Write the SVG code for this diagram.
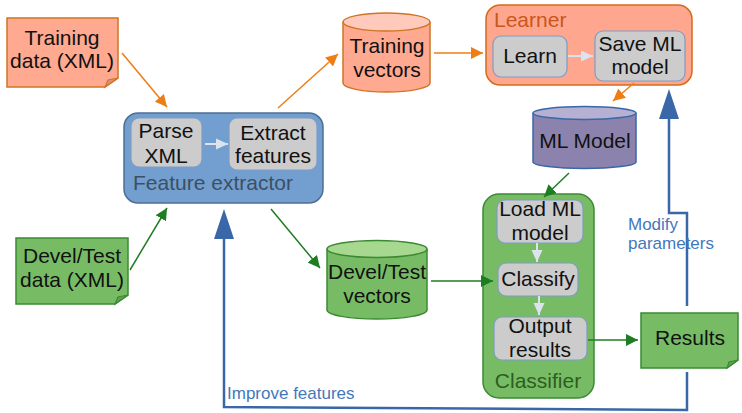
<svg xmlns="http://www.w3.org/2000/svg" width="742" height="413" viewBox="0 0 742 413">
<defs>
<marker id="ao" markerUnits="userSpaceOnUse" markerWidth="14" markerHeight="12" refX="12" refY="6" orient="auto"><path d="M0,0 L12,6 L0,12 z" fill="#ef7d15"/></marker>
<marker id="ag" markerUnits="userSpaceOnUse" markerWidth="14" markerHeight="12" refX="12" refY="6" orient="auto"><path d="M0,0 L12,6 L0,12 z" fill="#1e7d23"/></marker>
<marker id="al" markerUnits="userSpaceOnUse" markerWidth="14" markerHeight="12" refX="12" refY="6" orient="auto"><path d="M0,0.5 L12,6 L0,11.5 z" fill="#dde3ee"/></marker>
</defs>
<style>
text{font-family:"Liberation Sans",Arial,sans-serif;}
.t{font-size:21px;fill:#111;text-anchor:middle;}
.or{fill:#ffa990;stroke:#cf7525;stroke-width:1.5;}
.ortop{fill:#ffcabb;stroke:#cf7525;stroke-width:1.5;}
.gr{fill:#77bc65;stroke:#3b8a32;stroke-width:1.5;}
.grtop{fill:#a6d98f;stroke:#3b8a32;stroke-width:1.5;}
.pu{fill:#8b83ad;stroke:#3a67a8;stroke-width:1.5;}
.putop{fill:#b6b1d3;stroke:#3a67a8;stroke-width:1.5;}
.in{fill:#cccccc;stroke:#7f9cc4;stroke-width:1.2;}
.fold-o{fill:#e58f74;stroke:#cf7525;stroke-width:1.2;}
.fold-g{fill:#5fa34e;stroke:#3b8a32;stroke-width:1.2;}
.co{stroke:#ef7d15;stroke-width:1.5;fill:none;marker-end:url(#ao);}
.cg{stroke:#1e7d23;stroke-width:1.5;fill:none;marker-end:url(#ag);}
.cl{stroke:#dde3ee;stroke-width:2;fill:none;marker-end:url(#al);}
.cb{stroke:#3a67a8;stroke-width:2.5;fill:none;}
.lb{font-size:17px;fill:#4577bb;}
</style>

<g id="training-data">
<path class="or" d="M7,18 H118 V78 L105,87 H7 Z"/>
<path class="fold-o" d="M118,78 L108,80 L105,87 Z"/>
<text class="t" x="62" y="45">Training</text>
<text class="t" x="62" y="68">data (XML)</text>
</g>

<g id="devel-data">
<path class="gr" d="M16,238 H128 V295 L115,304 H16 Z"/>
<path class="fold-g" d="M128,295 L118,297 L115,304 Z"/>
<text class="t" x="72" y="263">Devel/Test</text>
<text class="t" x="72" y="287">data (XML)</text>
</g>

<g id="feature-extractor">
<rect x="124" y="113" width="199" height="90" rx="14" fill="#729fcf" stroke="#4f6d95" stroke-width="1.5"/>
<rect class="in" x="131" y="118" width="71" height="49" rx="8"/>
<text class="t" x="166" y="138">Parse</text>
<text class="t" x="166" y="163">XML</text>
<rect class="in" x="229" y="118" width="88" height="52" rx="8"/>
<text class="t" x="273" y="140">Extract</text>
<text class="t" x="273" y="163">features</text>
<text x="133" y="190" font-size="21" fill="#3d4f63">Feature extractor</text>
</g>

<g id="training-vectors">
<path class="or" d="M343,22 V83 A43.5,9 0 0 0 430,83 V22"/>
<ellipse class="ortop" cx="386.5" cy="22" rx="43.5" ry="9"/>
<text class="t" x="387" y="53">Training</text>
<text class="t" x="387" y="77">vectors</text>
</g>

<g id="learner">
<rect x="486" y="5" width="206" height="80" rx="14" fill="#ffa68f" stroke="#d36c1b" stroke-width="1.5"/>
<text x="494" y="27" font-size="21" fill="#c9561c">Learner</text>
<rect class="in" x="493" y="36" width="74" height="41" rx="8"/>
<text class="t" x="530" y="63">Learn</text>
<rect class="in" x="595" y="31" width="90" height="50" rx="8"/>
<text class="t" x="640" y="51">Save ML</text>
<text class="t" x="640" y="74">model</text>
</g>

<g id="ml-model">
<path class="pu" d="M533,113 V162 A51.5,6.5 0 0 0 636,162 V113"/>
<ellipse class="putop" cx="584.5" cy="113" rx="51.5" ry="6.5"/>
<text class="t" x="585" y="148">ML Model</text>
</g>

<g id="devel-vectors">
<path class="gr" d="M327,249 V310 A50,9 0 0 0 427,310 V249"/>
<ellipse class="grtop" cx="377" cy="249" rx="50" ry="8.5"/>
<text class="t" x="377" y="279">Devel/Test</text>
<text class="t" x="377" y="303">vectors</text>
</g>

<g id="classifier">
<rect x="483" y="194" width="111" height="204" rx="16" fill="#77bc65" stroke="#3b8a32" stroke-width="1.5"/>
<rect class="in" x="497" y="200" width="86" height="43" rx="8"/>
<text class="t" x="540" y="216">Load ML</text>
<text class="t" x="540" y="240">model</text>
<rect class="in" x="498" y="263" width="80" height="33" rx="8"/>
<text class="t" x="538" y="286">Classify</text>
<rect class="in" x="494" y="317" width="93" height="43" rx="8"/>
<text class="t" x="540" y="333">Output</text>
<text class="t" x="540" y="357">results</text>
<text x="538" y="388" font-size="21" fill="#2d5e1f" text-anchor="middle">Classifier</text>
</g>

<g id="results">
<path class="gr" d="M641,313 H738 V360 L727,368 H641 Z"/>
<path class="fold-g" d="M738,360 L729,362 L727,368 Z"/>
<text class="t" x="690" y="345">Results</text>
</g>

<g id="connectors">
<line class="co" x1="122" y1="53" x2="167" y2="107"/>
<line class="co" x1="278" y1="108" x2="338" y2="54"/>
<line class="co" x1="434" y1="53" x2="483" y2="53"/>
<line class="co" x1="634" y1="83" x2="613" y2="101"/>
<line class="cg" x1="130" y1="270" x2="167" y2="208"/>
<line class="cg" x1="271" y1="209" x2="320" y2="268"/>
<line class="cg" x1="431" y1="281" x2="493" y2="281"/>
<line class="cg" x1="569" y1="173" x2="544" y2="197"/>
<line class="cg" x1="588" y1="340" x2="638" y2="340"/>
<line class="cl" x1="205" y1="144" x2="228" y2="144"/>
<line class="cl" x1="568" y1="56" x2="593" y2="56"/>
<line class="cl" x1="537" y1="243" x2="537" y2="262"/>
<line class="cl" x1="539" y1="296" x2="539" y2="315"/>
<path class="cb" d="M687,306 V213 H669 V115"/>
<path d="M669,89 L659,119 L679,119 Z" fill="#3a67a8"/>
<path class="cb" d="M687,372 V410 L224,407 V235"/>
<path d="M224,209 L214,239 L234,239 Z" fill="#3a67a8"/>
<text class="lb" x="628" y="230">Modify</text>
<text class="lb" x="628" y="249">parameters</text>
<text class="lb" x="227" y="399">Improve features</text>
</g>
</svg>
